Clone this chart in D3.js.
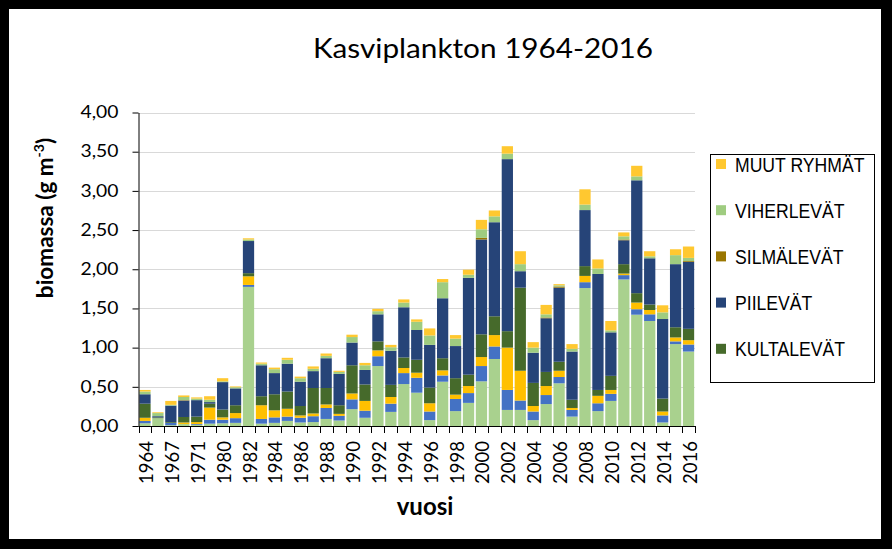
<!DOCTYPE html>
<html><head><meta charset="utf-8">
<script src="https://cdn.jsdelivr.net/npm/d3@7"></script>
<style>html,body{margin:0;padding:0;background:#000;} svg{display:block;}</style>
</head><body>
<svg id="chart" width="892" height="549"></svg>
<script>
// ---- data ----
const years = ["1964","1965","1967","1969","1971","1973","1980","1981","1982","1983","1984","1985","1986","1987","1988","1989","1990","1991","1992","1993","1994","1995","1996","1997","1998","1999","2000","2001","2002","2003","2004","2005","2006","2007","2008","2009","2010","2011","2012","2013","2014","2015","2016"];
const sinilevat = [.035,.10,.01,.025,.015,.03,.035,.04,1.775,.03,.04,.065,.045,.05,.09,.07,.215,.105,.765,.18,.535,.425,.075,.565,.19,.295,.57,.855,.205,.205,.075,.28,.545,.12,1.76,.19,.32,1.87,1.42,1.34,.045,1.045,.95];
const nielulevat = [.03,0,.03,0,.01,.05,.045,.06,.025,.06,.07,.055,.06,.075,.14,.06,.125,.09,.125,.105,.14,.19,.11,.08,.155,.125,.195,.16,.255,.12,.11,.115,.08,.085,.075,.10,.09,.055,.07,.085,.09,.035,.09];
const panssarisiimalevat = [.04,0,0,.02,.025,.155,.03,.065,.11,.175,.09,.10,.03,.035,.045,.025,.075,.125,.075,.085,.065,.065,.105,.065,.055,.09,.115,.145,.54,.38,.07,.115,.08,.025,.08,.095,.05,.02,.085,.055,.05,.05,.055];
const kultalevat = [.18,.01,.01,.07,.07,.05,.10,.10,.04,.115,.205,.22,.12,.325,.21,.11,.36,.21,.115,.155,.135,.165,.20,.155,.21,.145,.29,.24,.21,1.06,.295,.18,.115,.105,.125,.075,.18,.12,.12,.07,.165,.13,.145];
const piilevat = [.12,.015,.21,.21,.21,.02,.35,.215,.41,.395,.27,.355,.31,.215,.38,.40,.29,.185,.345,.435,.64,.38,.545,.765,.41,1.235,1.21,1.20,2.195,.21,.385,.685,.945,.615,.715,1.48,.555,.305,1.44,.59,1.015,.805,.855];
const silmalevat = [0,0,0,.005,0,0,0,0,0,0,0,0,0,0,0,0,0,0,0,0,0,0,0,0,0,0,.02,0,0,0,0,.01,.015,0,0,0,0,.01,0,0,0,0,.01];
const viherlevat = [.035,.04,.01,.04,.02,.03,.01,.015,.02,.02,.05,.05,.045,.03,.03,.025,.07,.06,.04,.045,.06,.105,.12,.205,.095,.04,.11,.075,.07,.09,.065,.04,.015,.035,.07,.07,.025,.04,.05,.025,.085,.115,.04];
const muutRyhmat = [.02,.01,.05,.02,.015,.045,.04,.01,.015,.015,.02,.025,.02,.03,.03,.015,.03,.03,.03,.03,.04,.03,.09,.04,.045,.065,.12,.075,.095,.165,.07,.12,.015,.06,.195,.115,.12,.05,.135,.065,.09,.075,.145];
const yTicks = [0,0.5,1,1.5,2,2.5,3,3.5,4];

const seriesNames = ["SINILEVÄT","NIELULEVÄT","PANSSARISIIMALEVÄT","KULTALEVÄT","PIILEVÄT","SILMÄLEVÄT","VIHERLEVÄT","MUUT RYHMÄT"];
const seriesValues = [sinilevat,nielulevat,panssarisiimalevat,kultalevat,piilevat,silmalevat,viherlevat,muutRyhmat];
const colors = {"SINILEVÄT":"#A9D18E","NIELULEVÄT":"#4472C4","PANSSARISIIMALEVÄT":"#FFC000","KULTALEVÄT":"#466A2B","PIILEVÄT":"#264478","SILMÄLEVÄT":"#9A7600","VIHERLEVÄT":"#9FCC80","MUUT RYHMÄT":"#FFC830"};
const legendItems = ["MUUT RYHMÄT","VIHERLEVÄT","SILMÄLEVÄT","PIILEVÄT","KULTALEVÄT"];

const table = years.map((yr,i)=>{ const r={year:yr}; seriesNames.forEach((s,k)=>r[s]=seriesValues[k][i]); return r; });

// ---- drawing ----
const svg = d3.select("#chart");
svg.append("rect").attr("width",892).attr("height",549).attr("fill","#000");
svg.append("rect").attr("x",9).attr("y",9).attr("width",872).attr("height",530).attr("fill","#fff");

const x = d3.scaleBand().domain(years).range([138.5,695]).paddingInner(0.13).paddingOuter(0.065);
const y = d3.scaleLinear().domain([0,4]).range([426,112.5]);

// gridlines
svg.append("g").selectAll("line").data(yTicks.slice(1)).join("line")
  .attr("x1",138.5).attr("x2",695)
  .attr("y1",d=>Math.round(y(d))+0.5).attr("y2",d=>Math.round(y(d))+0.5)
  .attr("stroke","#D9D9D9").attr("stroke-width",1);

// bars
const stack = d3.stack().keys(seriesNames)(table);
svg.append("g").selectAll("g").data(stack).join("g")
  .attr("fill",d=>colors[d.key])
  .selectAll("rect").data(d=>d).join("rect")
  .attr("x",d=>x(d.data.year)).attr("width",x.bandwidth())
  .attr("y",d=>y(d[1])).attr("height",d=>Math.max(0,y(d[0])-y(d[1])));

// y axis
const yAxis = svg.append("g").attr("transform","translate(138.5,0)")
  .call(d3.axisLeft(y).tickValues(yTicks).tickSize(6).tickSizeOuter(0).tickPadding(14)
    .tickFormat(d=>d3.format(".2f")(d).replace(".",",")));
yAxis.select(".domain").attr("stroke","#000");
yAxis.selectAll(".tick line").attr("stroke","#000");
yAxis.selectAll(".tick text").attr("fill","#000").attr("font-family","Lato").attr("font-size",16.5)
  .attr("textLength",38).attr("lengthAdjust","spacingAndGlyphs");

// x axis
const bounds = years.map(yr=>x(yr)-x.step()*x.paddingInner()/2);
bounds.push(bounds[bounds.length-1]+x.step());
svg.append("line").attr("x1",138.5).attr("x2",695).attr("y1",y(0)+0.5).attr("y2",y(0)+0.5).attr("stroke","#000");
svg.append("g").selectAll("line").data(bounds).join("line")
  .attr("x1",d=>Math.round(d)+0.5).attr("x2",d=>Math.round(d)+0.5)
  .attr("y1",y(0)).attr("y2",y(0)+7).attr("stroke","#000");
svg.append("g").selectAll("text").data(years.filter((d,i)=>i%2===0)).join("text")
  .attr("transform",d=>`translate(${x(d)+x.bandwidth()/2+8},441) rotate(-90)`)
  .attr("text-anchor","end").attr("font-family","Lato").attr("font-size",18.5).attr("fill","#000")
  .text(d=>d);

// titles
svg.append("text").attr("x",483).attr("y",58).attr("text-anchor","middle")
  .attr("font-family","Lato").attr("font-size",26).attr("fill","#000")
  .attr("textLength",340).attr("lengthAdjust","spacingAndGlyphs")
  .text("Kasviplankton 1964-2016");
svg.append("text").attr("x",425).attr("y",514.5).attr("text-anchor","middle")
  .attr("font-family","Lato").attr("font-weight","bold").attr("font-size",24).attr("fill","#000")
  .text("vuosi");
const yt = svg.append("text").attr("transform","translate(53,218) rotate(-90)").attr("text-anchor","middle")
  .attr("font-family","Lato").attr("font-weight","bold").attr("font-size",22.5).attr("fill","#000");
yt.append("tspan").text("biomassa (g m");
yt.append("tspan").attr("font-size",14).attr("dy",-9).text("-3");
yt.append("tspan").attr("dy",9).text(")");

// legend
const lg = svg.append("g");
lg.append("rect").attr("x",710.5).attr("y",154.5).attr("width",164).attr("height",228)
  .attr("fill","#fff").attr("stroke","#000").attr("stroke-width",1);
const li = lg.selectAll("g.item").data(legendItems).join("g").attr("class","item")
  .attr("transform",(d,i)=>`translate(0,${164+i*46.2})`);
li.append("rect").attr("x",716).attr("y",-5).attr("width",10).attr("height",10).attr("fill",d=>colors[d]);
li.append("text").attr("x",735).attr("y",7.5).attr("font-family","Liberation Sans").attr("font-size",20)
  .attr("fill","#000").text(d=>d)
  .each(function(){ const w=this.getComputedTextLength(); this.setAttribute("textLength",(w*0.88).toFixed(1)); this.setAttribute("lengthAdjust","spacingAndGlyphs"); });
</script>
</body></html>
